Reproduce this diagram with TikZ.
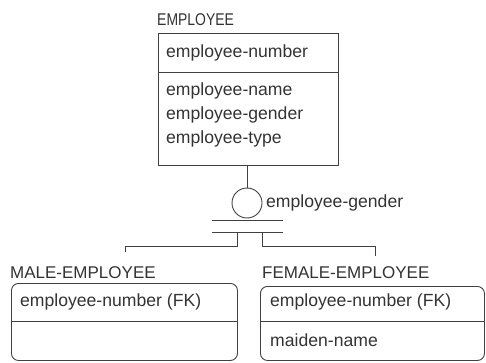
\documentclass[tikz,border=0pt]{standalone}
\usepackage{fontspec}
\setmainfont{Liberation Sans}
\begin{document}
\begin{tikzpicture}[x=1pt,y=-1pt,
  ln/.style={draw=black!75,line width=0.9pt},
  lbl/.style={anchor=west,inner sep=0pt,font=\fontsize{17.6}{20}\selectfont,text=black!80},
  ttl/.style={anchor=west,inner sep=0pt,font=\fontsize{17}{20}\selectfont,text=black!80},
  ent/.style={ln,inner sep=0pt,anchor=north west},
]
\useasboundingbox (0,0) rectangle (486,363);
% EMPLOYEE
\node[ttl] (tE) at (157,20) {\scalebox{0.82}[1]{EMPLOYEE}};
\node[ent,minimum width=180pt,minimum height=132pt] (E) at (158,33) {};
\draw[ln] (158,72) -- (338,72);
\node[lbl] (e1) at (166,53) {employee-number};
\node[lbl] (e2) at (166,91) {employee-name};
\node[lbl] (e3) at (166,115) {employee-gender};
\node[lbl] (e4) at (166,139) {employee-type};
% discriminator
\node[ln,circle,minimum size=30pt,inner sep=0pt] (C) at (247,203) {};
\node[lbl] (cl) at (266,203) {employee-gender};
\coordinate (b1l) at (212,220); \coordinate (b1r) at (283,220);
\coordinate (b2l) at (212,232); \coordinate (b2r) at (283,232);
\draw[ln] (b1l) -- (b1r);
\draw[ln] (b2l) -- (b2r);
\draw[ln] (E.south -| C.north) -- (C.north);
% branches
\coordinate (sl) at (237,232); \coordinate (sr) at (262,232);
\coordinate (ml) at (125,252); \coordinate (fr) at (375,256);
\draw[ln] (sl) -- (237,246) -| (ml);
\draw[ln] (sr) -- (262,246) -| (fr);
% MALE
\node[ttl] (tM) at (10,273) {MALE-EMPLOYEE};
\node[ent,rounded corners=7pt,minimum width=226pt,minimum height=77pt] (M) at (11,283) {};
\draw[ln] (11,321) -- (237,321);
\node[lbl] (m1) at (20,302) {employee-number (FK)};
% FEMALE
\node[ttl] (tF) at (262,273) {FEMALE-EMPLOYEE};
\node[ent,rounded corners=7pt,minimum width=224pt,minimum height=74pt] (F) at (260,286) {};
\draw[ln] (260,321) -- (484,321);
\node[lbl] (f1) at (270,302) {employee-number (FK)};
\node[lbl] (f2) at (270,340) {maiden-name};
\end{tikzpicture}
\end{document}
